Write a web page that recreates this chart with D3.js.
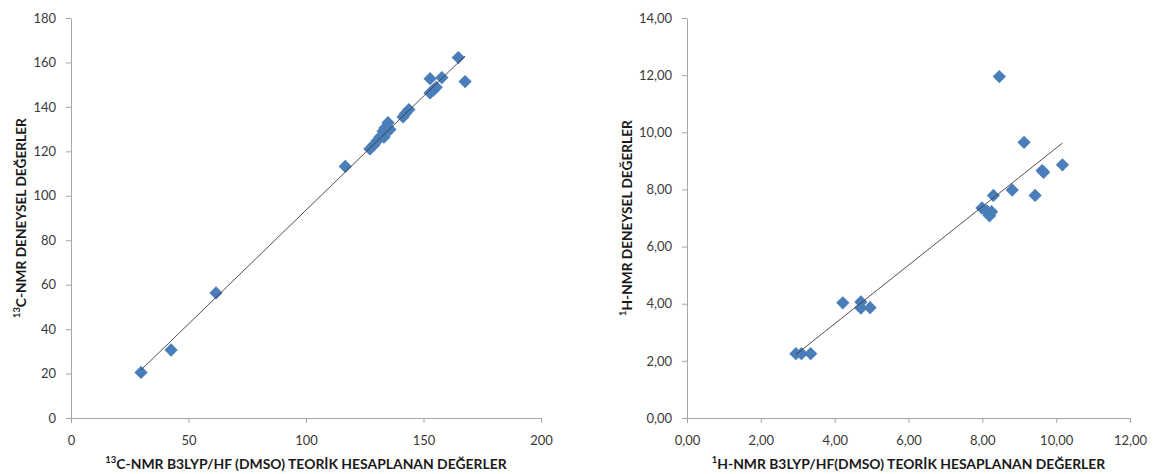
<!DOCTYPE html>
<html>
<head>
<meta charset="utf-8">
<script src="https://cdn.jsdelivr.net/npm/d3@7"></script>
<style>
  body { margin: 0; background: #fff; }
  svg { display: block; font-family: Lato, "Open Sans", sans-serif; }
  .axis path, .axis line { stroke: #a6a6a6; }
  .axis text { fill: #3a3a3a; font-size: 13px; font-family: Lato, "Open Sans", sans-serif; }
  .title { fill: #1a1a1a; font-weight: bold; }
</style>
</head>
<body>
<div id="chart"></div>
<script>
// 13C-NMR: theoretical (B3LYP/HF) vs experimental shifts
var cTheoretical = [29.8, 42.6, 61.7, 116.7, 127.2, 128.9, 130.2, 131.5, 132.8, 133.2, 133.6, 134.5, 134.9, 135.7,
                    141.3, 142.3, 143.8, 152.8, 154.2, 155.4, 152.8, 157.8, 164.8, 167.7];
var cExperimental = [20.5, 30.6, 56.3, 113.2, 121.1, 122.9, 124.7, 126.4, 129.0, 126.4, 130.5, 131.2, 132.9, 129.8,
                     135.5, 137.0, 138.8, 146.3, 147.6, 148.8, 152.7, 153.2, 162.2, 151.4];
var cTicksX = [0, 50, 100, 150, 200];
var cTicksY = [0, 20, 40, 60, 80, 100, 120, 140, 160, 180];

// 1H-NMR: theoretical vs experimental shifts
var hTheoretical = [2.95, 3.10, 3.35, 4.22, 4.71, 4.71, 4.96, 7.99, 8.12, 8.18, 8.25, 8.20, 8.30, 8.46, 8.81,
                    9.13, 9.43, 9.62, 9.66, 10.17];
var hExperimental = [2.25, 2.25, 2.25, 4.03, 4.06, 3.85, 3.86, 7.35, 7.25, 7.10, 7.22, 7.08, 7.79, 11.95, 7.98,
                     9.65, 7.79, 8.66, 8.60, 8.86];
var hTicksX = [0, 2, 4, 6, 8, 10, 12];
var hTicksY = [0, 2, 4, 6, 8, 10, 12, 14];

var width = 1153, height = 474;

var svg = d3.select("#chart")
    .append("svg")
    .attr("width", width)
    .attr("height", height);

function commaFormat(v) {
    return d3.format(".2f")(v).replace(".", ",");
}

// writes "¹³C-NMR ..." style text, then sizes it to a target length
function titleText(sel, sup, rest, target) {
    sel.attr("font-size", 13);
    sel.append("tspan")
        .attr("font-size", "0.68em")
        .attr("dy", "-0.42em")
        .text(sup);
    sel.append("tspan")
        .attr("dy", "0.42em")
        .text(rest);
    var len = sel.node().getComputedTextLength();
    sel.attr("font-size", 13 * target / len);
}

function drawPanel(p) {
    var plotW = p.right - p.left, plotH = 400;

    var x = d3.scaleLinear().domain([p.xTicks[0], p.xTicks[p.xTicks.length - 1]]).range([0, plotW]);
    var y = d3.scaleLinear().domain([p.yTicks[0], p.yTicks[p.yTicks.length - 1]]).range([plotH, 0]);

    var g = svg.append("g")
        .attr("transform", "translate(" + p.left + "," + 18 + ")");

    g.append("g")
        .attr("class", "axis")
        .attr("transform", "translate(0," + plotH + ")")
        .call(d3.axisBottom(x).tickValues(p.xTicks).tickFormat(p.fmt).tickSize(5).tickSizeOuter(0).tickPadding(13));

    g.append("g")
        .attr("class", "axis")
        .call(d3.axisLeft(y).tickValues(p.yTicks).tickFormat(p.fmt).tickSize(5).tickSizeOuter(0).tickPadding(10));

    g.selectAll(".axis text").attr("fill", "#3a3a3a");

    // linear trend line over the data range
    var mx = d3.mean(p.xs), my = d3.mean(p.ys);
    var sxy = d3.sum(p.xs, function(v, i) { return (v - mx) * (p.ys[i] - my); });
    var sxx = d3.sum(p.xs, function(v) { return (v - mx) * (v - mx); });
    var slope = sxy / sxx, icpt = my - slope * mx;
    var ends = d3.extent(p.xs);

    var line = d3.line()
        .x(function(d) { return x(d); })
        .y(function(d) { return y(slope * d + icpt); });

    var pts = p.xs.map(function(v, i) { return { x: v, y: p.ys[i] }; });

    g.selectAll(".dot")
        .data(pts)
      .enter().append("path")
        .attr("class", "dot")
        .attr("d", d3.symbol().type(d3.symbolSquare).size(88))
        .attr("transform", function(d) { return "translate(" + x(d.x) + "," + y(d.y) + ") rotate(45)"; })
        .attr("fill", "#4a7ebb");

    g.append("path")
        .datum(ends)
        .attr("fill", "none")
        .attr("stroke", "#3c3c3c")
        .attr("stroke-width", 0.9)
        .attr("d", line);

    var xt = g.append("text")
        .attr("class", "title")
        .attr("text-anchor", "middle")
        .attr("x", plotW / 2)
        .attr("y", 449);
    titleText(xt, p.sup, p.xTitle, p.xTitleLen);

    var yt = g.append("text")
        .attr("class", "title")
        .attr("text-anchor", "middle")
        .attr("transform", "translate(" + p.yTitleX + "," + (plotH / 2) + ") rotate(-90)");
    titleText(yt, p.sup, p.yTitle, p.yTitleLen);
}

drawPanel({
    left: 71, right: 541,
    xs: cTheoretical, ys: cExperimental,
    xTicks: cTicksX, yTicks: cTicksY,
    fmt: d3.format("d"),
    sup: "13",
    xTitle: "C-NMR B3LYP/HF (DMSO) TEORİK HESAPLANAN DEĞERLER", xTitleLen: 402,
    yTitle: "C-NMR DENEYSEL DEĞERLER", yTitleLen: 200,
    yTitleX: -47
});

drawPanel({
    left: 687, right: 1130,
    xs: hTheoretical, ys: hExperimental,
    xTicks: hTicksX, yTicks: hTicksY,
    fmt: commaFormat,
    sup: "1",
    xTitle: "H-NMR B3LYP/HF(DMSO) TEORİK HESAPLANAN DEĞERLER", xTitleLen: 394,
    yTitle: "H-NMR DENEYSEL DEĞERLER", yTitleLen: 196,
    yTitleX: -57
});
</script>
</body>
</html>
